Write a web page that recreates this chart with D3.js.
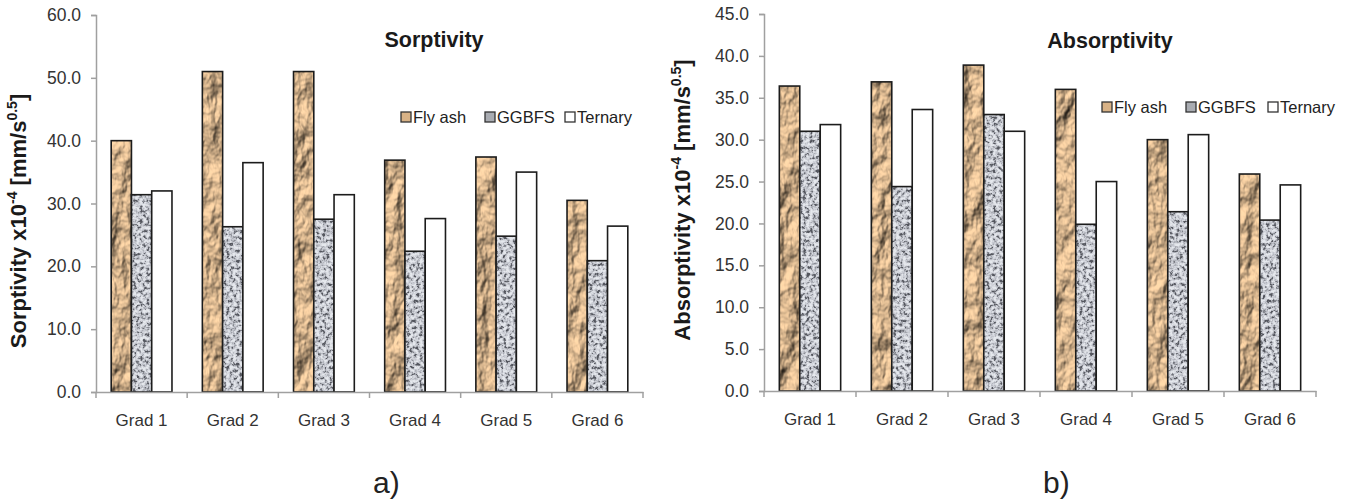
<!DOCTYPE html>
<html>
<head>
<meta charset="utf-8">
<script src="https://cdn.jsdelivr.net/npm/d3@7"></script>
<style>
  body { margin: 0; background: #fff; }
  svg { display: block; font-family: "Liberation Sans", Arial, sans-serif; }
</style>
</head>
<body>
<svg id="chart" width="1354" height="500"></svg>
<script>
// categories and series
const categories = ['Grad 1', 'Grad 2', 'Grad 3', 'Grad 4', 'Grad 5', 'Grad 6'];
const seriesNames = ['Fly ash', 'GGBFS', 'Ternary'];

// a) sorptivity x10^-4 [mm/s^0.5]
const sorpFlyAsh  = [40.0, 51.0, 51.0, 36.9, 37.4, 30.5];
const sorpGGBFS   = [31.4, 26.3, 27.5, 22.4, 24.8, 20.9];
const sorpTernary = [32.0, 36.5, 31.4, 27.6, 35.0, 26.4];

// b) absorptivity x10^-4 [mm/s^0.5]
const absFlyAsh  = [36.4, 36.9, 38.9, 36.0, 30.0, 25.9];
const absGGBFS   = [31.0, 24.4, 33.0, 19.9, 21.4, 20.4];
const absTernary = [31.8, 33.6, 31.0, 25.0, 30.6, 24.6];

// y tick values
const sorpTicks = [0, 10, 20, 30, 40, 50, 60];
const absTicks  = [0, 5, 10, 15, 20, 25, 30, 35, 40, 45];

const svg = d3.select('#chart');
const defs = svg.append('defs');

// crumpled brown texture for fly ash
const fa = defs.append('filter').attr('id', 'tex-flyash')
    .attr('x', 0).attr('y', 0).attr('width', 1).attr('height', 1)
    .attr('primitiveUnits', 'userSpaceOnUse')
    .attr('color-interpolation-filters', 'sRGB');
fa.append('feTurbulence').attr('type', 'fractalNoise')
    .attr('baseFrequency', '0.06 0.035').attr('numOctaves', 4).attr('seed', 11).attr('result', 'noise');
fa.append('feDiffuseLighting').attr('in', 'noise')
    .attr('lighting-color', '#eac59a').attr('surfaceScale', 6).attr('diffuseConstant', 1.12).attr('result', 'lit')
  .append('feDistantLight').attr('azimuth', 235).attr('elevation', 55);
fa.append('feComposite').attr('in', 'lit').attr('in2', 'SourceGraphic').attr('operator', 'in');

// speckled grey texture for GGBFS
const gg = defs.append('filter').attr('id', 'tex-ggbfs')
    .attr('x', 0).attr('y', 0).attr('width', 1).attr('height', 1)
    .attr('primitiveUnits', 'userSpaceOnUse')
    .attr('color-interpolation-filters', 'sRGB');
gg.append('feTurbulence').attr('type', 'fractalNoise')
    .attr('baseFrequency', 0.3).attr('numOctaves', 3).attr('seed', 5).attr('result', 'n');
gg.append('feColorMatrix').attr('in', 'n').attr('type', 'matrix')
    .attr('values', '2.4 0 0 0 -0.65  2.4 0 0 0 -0.65  2.4 0 0 0 -0.65  0 0 0 0 1').attr('result', 'g');
const ct = gg.append('feComponentTransfer').attr('in', 'g').attr('result', 'c');
ct.append('feFuncR').attr('type', 'table').attr('tableValues', '0.33 0.48 0.66 0.76 0.82 0.86 0.9');
ct.append('feFuncG').attr('type', 'table').attr('tableValues', '0.34 0.49 0.67 0.77 0.83 0.87 0.91');
ct.append('feFuncB').attr('type', 'table').attr('tableValues', '0.37 0.52 0.7 0.8 0.86 0.89 0.93');
gg.append('feComposite').attr('in', 'c').attr('in2', 'SourceGraphic').attr('operator', 'in');

const fills = [
  { fill: '#000', filter: 'url(#tex-flyash)', swatch: '#d8b286' },
  { fill: '#000', filter: 'url(#tex-ggbfs)', swatch: '#a9acb2' },
  { fill: '#fff', filter: null, swatch: '#fff' }
];

function drawPanel(cfg) {
  const g = svg.append('g');
  const x = d3.scaleBand().domain(categories).range([cfg.left, cfg.right]);
  const xs = d3.scaleBand().domain(seriesNames).range([0, x.bandwidth()]).paddingOuter(0.75);
  const y = d3.scaleLinear().domain([0, cfg.yMax]).range([cfg.bottom, cfg.top]);

  // y axis
  const ya = g.append('g').attr('transform', `translate(${cfg.left},0)`)
    .call(d3.axisLeft(y).tickValues(cfg.ticks).tickFormat(d3.format('.1f')).tickSize(5).tickPadding(10));
  ya.select('.domain').attr('stroke', '#a0a0a0').attr('stroke-width', 1.5);
  ya.selectAll('.tick line').attr('stroke', '#a0a0a0').attr('stroke-width', 1.5);
  ya.selectAll('.tick text').attr('fill', '#333').style('font-size', '17.5px')
    .style('font-family', '"Liberation Sans", Arial, sans-serif');

  // bars
  const series = cfg.values;
  categories.forEach((c, i) => {
    seriesNames.forEach((s, j) => {
      const bx = x(c) + xs(s), bw = xs.bandwidth();
      const by = y(series[j][i]), bh = y(0) - y(series[j][i]);
      const r = g.append('rect').attr('x', bx).attr('y', by).attr('width', bw).attr('height', bh)
        .attr('fill', fills[j].fill);
      if (fills[j].filter) r.attr('filter', fills[j].filter);
      g.append('rect').attr('x', bx).attr('y', by).attr('width', bw).attr('height', bh)
        .attr('fill', 'none').attr('stroke', '#1c1c1c').attr('stroke-width', 1.6);
    });
  });

  // x axis
  const xa = g.append('g').attr('transform', `translate(0,${cfg.bottom})`)
    .call(d3.axisBottom(x).tickSize(0).tickPadding(22));
  xa.select('.domain').attr('stroke', '#a0a0a0').attr('stroke-width', 1.5);
  xa.selectAll('.tick text').attr('fill', '#333').style('font-size', '17px')
    .style('font-family', '"Liberation Sans", Arial, sans-serif');
  const bounds = categories.map(c => x(c)).concat([x.range()[1]]);
  xa.selectAll('line.bound').data(bounds).enter().append('line').attr('class', 'bound')
    .attr('x1', d => d).attr('x2', d => d).attr('y1', 0).attr('y2', 6)
    .attr('stroke', '#a0a0a0').attr('stroke-width', 1.5);

  // title
  g.append('text').attr('x', cfg.titleX).attr('y', cfg.titleY).attr('text-anchor', 'middle')
    .attr('font-size', 21.5).attr('font-weight', 'bold').attr('fill', '#1a1a1a').text(cfg.title);

  // y label
  const yl = g.append('text')
    .attr('transform', `translate(${cfg.labelX},${cfg.labelY}) rotate(-90)`)
    .attr('text-anchor', 'middle').attr('font-size', 22).attr('font-weight', 'bold').attr('fill', '#1a1a1a');
  yl.append('tspan').text(cfg.label + ' x10');
  yl.append('tspan').attr('font-size', 14).attr('dy', -9).text('-4');
  yl.append('tspan').attr('dy', 9).text(' [mm/s');
  yl.append('tspan').attr('font-size', 14).attr('dy', -9).text('0.5');
  yl.append('tspan').attr('dy', 9).text(']');

  // legend
  const lg = g.append('g').attr('transform', `translate(${cfg.legendX},${cfg.legendY})`);
  seriesNames.forEach((s, j) => {
    const it = lg.append('g').attr('transform', `translate(${cfg.legendOffsets[j]},0)`);
    it.append('rect').attr('x', 0).attr('y', -5).attr('width', 10).attr('height', 10)
      .attr('fill', fills[j].swatch).attr('stroke', '#333').attr('stroke-width', 1.3);
    it.append('text').attr('x', 12).attr('y', 6).attr('font-size', 16.5).attr('fill', '#222').text(s);
  });

  // panel tag
  svg.append('text').attr('x', cfg.tagX).attr('y', 493).attr('font-size', 30).attr('fill', '#222').text(cfg.tag);
}

drawPanel({
  values: [sorpFlyAsh, sorpGGBFS, sorpTernary], yMax: 60, ticks: sorpTicks,
  left: 96, right: 643, top: 15, bottom: 392,
  title: 'Sorptivity', titleX: 434, titleY: 47,
  label: 'Sorptivity', labelX: 26, labelY: 221,
  legendX: 401, legendY: 117, legendOffsets: [0, 84, 164],
  tag: 'a)', tagX: 373
});

drawPanel({
  values: [absFlyAsh, absGGBFS, absTernary], yMax: 45, ticks: absTicks,
  left: 764, right: 1316, top: 14, bottom: 391,
  title: 'Absorptivity', titleX: 1110, titleY: 48,
  label: 'Absorptivity', labelX: 690, labelY: 200,
  legendX: 1102, legendY: 107, legendOffsets: [0, 84, 166],
  tag: 'b)', tagX: 1043
});
</script>
</body>
</html>
